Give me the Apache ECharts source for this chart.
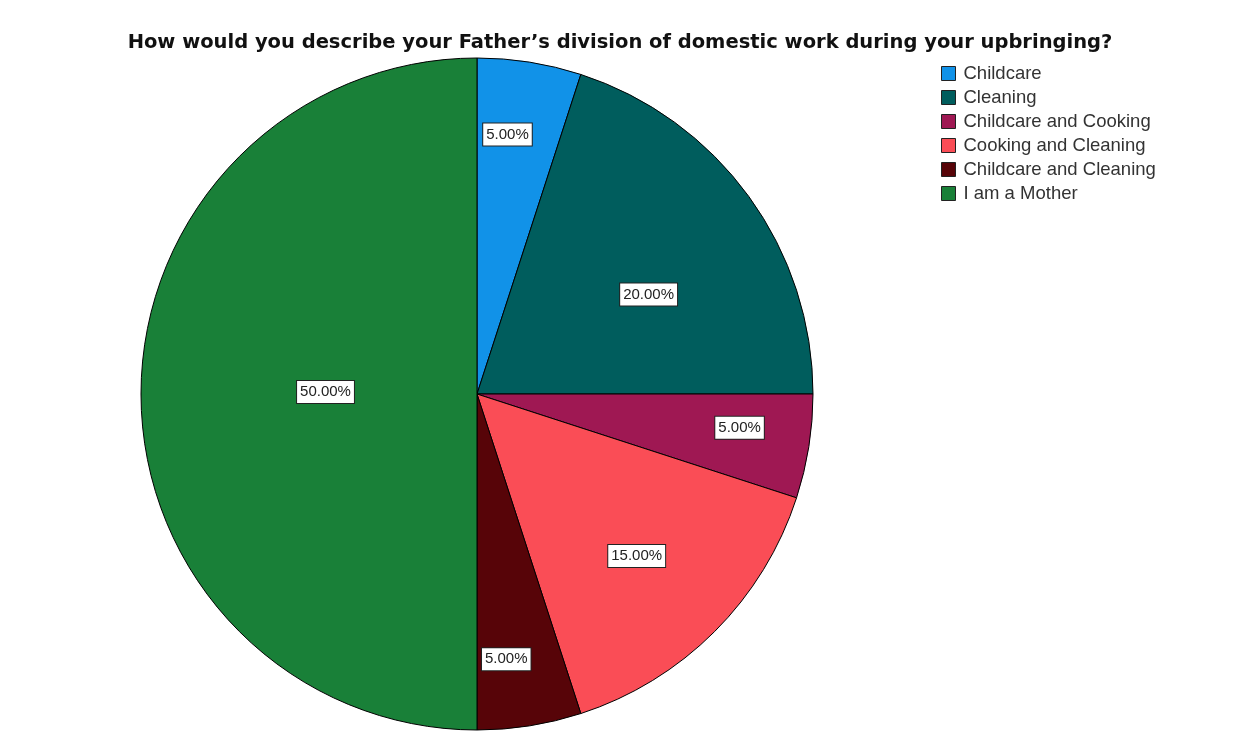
<!DOCTYPE html>
<html>
<head>
<meta charset="utf-8">
<script src="https://cdn.jsdelivr.net/npm/echarts@6/dist/echarts.min.js"></script>
<style>
  html, body { margin: 0; padding: 0; background: #fff; }
  #chart { width: 1249px; height: 731px; }
</style>
</head>
<body>
<div id="chart"></div>
<script>
// Survey answers and their share of respondents (percent)
const categories = [
  'Childcare',
  'Cleaning',
  'Childcare and Cooking',
  'Cooking and Cleaning',
  'Childcare and Cleaning',
  'I am a Mother'
];
const percentages = [5, 20, 5, 15, 5, 50];

// Slice colours
const palette = ['#1192e8', '#005d5d', '#9f1853', '#fa4d56', '#570408', '#198038'];
// Placement of each percentage label: fraction of the radius, and angular nudge (degrees, clockwise)
const labelRadius = [0.764, 0.58, 0.774, 0.665, 0.78, 0.443];
const labelTurn = [-2.3, 5.9, -1.7, 0.4, 2.7, 0.8];

const CX = 477, CY = 394, R = 336;

const chart = echarts.init(document.getElementById('chart'), null, { renderer: 'canvas' });

chart.setOption({
  backgroundColor: '#ffffff',
  animation: false,
  title: {
    text: 'How would you describe your Father\u2019s division of domestic work during your upbringing?',
    left: 620,
    textAlign: 'center',
    top: 33,
    padding: 0,
    textStyle: {
      fontFamily: 'DejaVu Sans, sans-serif',
      fontSize: 19.5,
      fontWeight: 'bold',
      color: '#111'
    }
  },
  legend: {
    orient: 'vertical',
    left: 941,
    top: 64,
    padding: 0,
    itemWidth: 14,
    itemHeight: 14,
    itemGap: 5,
    icon: 'rect',
    selectedMode: false,
    itemStyle: { borderColor: '#222', borderWidth: 1 },
    textStyle: {
      fontFamily: 'Liberation Sans, Arial, sans-serif',
      fontSize: 18.5,
      color: '#333',
      padding: [0, 0, 0, 3]
    },
    data: categories
  },
  color: palette,
  series: [{
    type: 'pie',
    center: [CX, CY],
    radius: [0, R],
    startAngle: 90,
    clockwise: true,
    avoidLabelOverlap: false,
    itemStyle: { borderColor: '#000', borderWidth: 1 },
    emphasis: { disabled: true },
    label: {
      show: true,
      position: 'inside',
      formatter: p => p.value.toFixed(2) + '%',
      fontFamily: 'Liberation Sans, Arial, sans-serif',
      fontSize: 15,
      color: '#222',
      backgroundColor: '#fff',
      borderColor: '#222',
      borderWidth: 1,
      padding: [4, 3, 3, 3]
    },
    labelLine: { show: false },
    // Move each inside label along (and slightly around) its radius
    labelLayout: function (params) {
      const r = params.labelRect;
      const lx = r.x + r.width / 2 - CX;
      const ly = r.y + r.height / 2 - CY;
      const k = labelRadius[params.dataIndex] / 0.5;
      const t = labelTurn[params.dataIndex] * Math.PI / 180;
      const rx = lx * Math.cos(t) - ly * Math.sin(t);
      const ry = lx * Math.sin(t) + ly * Math.cos(t);
      return {
        x: CX + rx * k,
        y: CY + ry * k
      };
    },
    data: categories.map((name, i) => ({ name: name, value: percentages[i] }))
  }]
});
</script>
</body>
</html>
